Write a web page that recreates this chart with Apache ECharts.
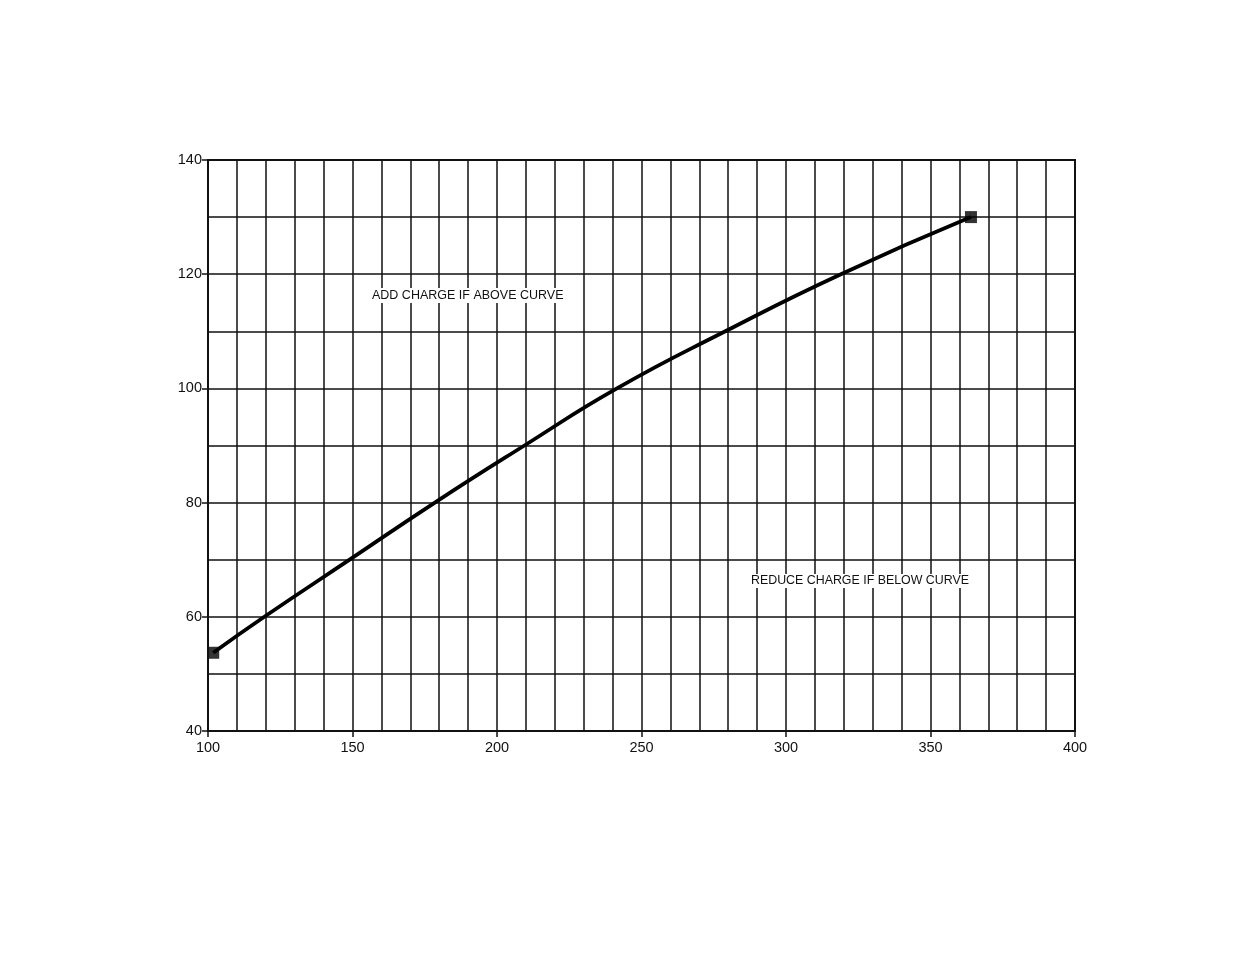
<!DOCTYPE html>
<html>
<head>
<meta charset="utf-8">
<script src="https://cdn.jsdelivr.net/npm/echarts@6/dist/echarts.min.js"></script>
<style>
html,body{margin:0;padding:0;background:#fff;}
#c{width:1235px;height:954px;}
</style>
</head>
<body>
<div id="c"></div>
<script>
var curveX = [101.8, 119.5, 149, 178.5, 209.5, 241.5, 279, 319, 364];
var curveY = [53.7, 60, 70, 80, 90, 100, 110, 120, 130];
var xTicks = [100, 150, 200, 250, 300, 350, 400];
var yTicks = [40, 60, 80, 100, 120, 140];
var noteAbove = 'ADD CHARGE IF ABOVE CURVE';
var noteBelow = 'REDUCE CHARGE IF BELOW CURVE';

var curve = curveX.map(function (x, i) { return [x, curveY[i]]; });
var ends = [curve[0], curve[curve.length - 1]];

var chart = echarts.init(document.getElementById('c'));
var ink = '#111';
chart.setOption({
  backgroundColor: '#fff',
  animation: false,
  grid: { left: 208, right: 160, top: 160, bottom: 223 },
  xAxis: {
    type: 'value', min: 100, max: 400, interval: 50,
    axisLine: { show: true, onZero: false, lineStyle: { color: ink, width: 2 } },
    axisTick: { show: true, length: 6, lineStyle: { color: ink, width: 1.5 } },
    axisLabel: { color: ink, fontSize: 14.5, fontFamily: 'Liberation Sans', margin: 9,
      formatter: function (v) { return xTicks.indexOf(v) >= 0 ? String(v) : ''; } },
    splitLine: { show: true, lineStyle: { color: ink, width: 1.5 } },
    minorTick: { show: false, splitNumber: 5 },
    minorSplitLine: { show: true, lineStyle: { color: ink, width: 1.5 } }
  },
  yAxis: {
    type: 'value', min: 40, max: 140, interval: 20,
    axisLine: { show: true, onZero: false, lineStyle: { color: ink, width: 2 } },
    axisTick: { show: true, length: 6, lineStyle: { color: ink, width: 1.5 } },
    axisLabel: { color: ink, fontSize: 14.5, fontFamily: 'Liberation Sans', margin: 6,
      formatter: function (v) { return yTicks.indexOf(v) >= 0 ? String(v) : ''; } },
    splitLine: { show: true, lineStyle: { color: ink, width: 1.5 } },
    minorTick: { show: false, splitNumber: 2 },
    minorSplitLine: { show: true, lineStyle: { color: ink, width: 1.5 } }
  },
  graphic: [
    { type: 'rect', shape: { x: 208, y: 160, width: 867, height: 571 }, z: 10,
      style: { fill: 'none', stroke: ink, lineWidth: 2 } },
    { type: 'text', left: 372, top: 288, z: 20,
      style: { text: noteAbove, fill: ink, font: '12.5px "Liberation Sans"', backgroundColor: '#fff', padding: [1, 0] } },
    { type: 'text', left: 751, top: 574, z: 20,
      style: { text: noteBelow, fill: ink, font: '12.4px "Liberation Sans"', backgroundColor: '#fff', padding: [1, 0] } }
  ],
  series: [
    { type: 'line', data: curve, smooth: 0.5, showSymbol: false, z: 5,
      lineStyle: { color: '#000', width: 3.8 } },
    { type: 'scatter', data: ends, symbol: 'rect', symbolSize: 12, z: 6,
      itemStyle: { color: '#000' } }
  ]
});
</script>
</body>
</html>
